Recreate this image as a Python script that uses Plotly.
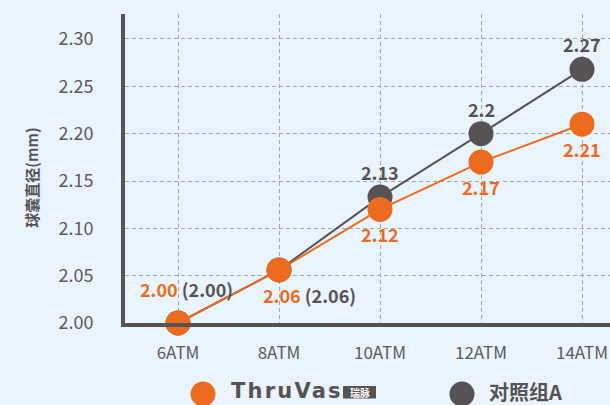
import plotly.graph_objects as go

# ---- data ----
categories = ["6ATM", "8ATM", "10ATM", "12ATM", "14ATM"]
thruvas = [2.00, 2.056, 2.12, 2.17, 2.21]
control = [2.00, 2.056, 2.133, 2.20, 2.268]
thruvas_labels = ["2.00", "2.06", "2.12", "2.17", "2.21"]
control_labels = ["(2.00)", "(2.06)", "2.13", "2.2", "2.27"]
y_ticks = [2.00, 2.05, 2.10, 2.15, 2.20, 2.25, 2.30]
y_tick_text = ["2.00", "2.05", "2.10", "2.15", "2.20", "2.25", "2.30"]
series_names = ["ThruVas", "对照组A"]
y_title = "球囊直径(mm)"

ORANGE = "#ec6b1e"
GRAY = "#575354"
BG = "#e9f4fc"
FONT = "Noto Sans CJK SC"

fig = go.Figure()
fig.add_trace(go.Scatter(
    x=categories, y=control, mode="lines+markers", name=series_names[1],
    line=dict(color=GRAY, width=2), marker=dict(size=25, color=GRAY),
    cliponaxis=False, showlegend=False))
fig.add_trace(go.Scatter(
    x=categories, y=thruvas, mode="lines+markers", name=series_names[0],
    line=dict(color=ORANGE, width=2), marker=dict(size=25, color=ORANGE),
    cliponaxis=False, showlegend=False))

annotations = []
# combined labels for first two points (label offsets in pixels)
combo_shift = [(8, 34), (30, -25)]
for i, (dx, dy) in enumerate(combo_shift):
    annotations.append(dict(
        x=categories[i], y=thruvas[i], xref="x", yref="y",
        text=f"<span style='color:{ORANGE}'>{thruvas_labels[i]}</span> {control_labels[i]}",
        showarrow=False, xshift=dx, yshift=dy,
        font=dict(family=FONT, size=18, color=GRAY, weight="bold")))
for i in range(2, len(categories)):
    annotations.append(dict(
        x=categories[i], y=thruvas[i], xref="x", yref="y",
        text=thruvas_labels[i], showarrow=False, yshift=-25,
        font=dict(family=FONT, size=18, color=ORANGE, weight="bold")))
    annotations.append(dict(
        x=categories[i], y=control[i], xref="x", yref="y",
        text=control_labels[i], showarrow=False, yshift=25,
        font=dict(family=FONT, size=18, color=GRAY, weight="bold")))

# y axis title
annotations.append(dict(
    x=-0.192, y=0.47, xref="paper", yref="paper", text=y_title,
    xanchor="center", yanchor="middle",
    textangle=-90, showarrow=False,
    font=dict(family=FONT, size=15, color=GRAY, weight="bold")))

# legend (custom, large symbols)
L, W, T, H = 125, 485, 14, 309
def px(xp):
    return (xp - L) / W
def py(yp):
    return (T + H - yp) / H

shapes = []
for cx, col in [(203, ORANGE), (462, GRAY)]:
    shapes.append(dict(type="circle", xref="paper", yref="paper",
                       xsizemode="pixel", ysizemode="pixel",
                       xanchor=px(cx), yanchor=py(394),
                       x0=-12.5, x1=12.5, y0=-12.5, y1=12.5,
                       fillcolor=col, line=dict(width=0)))
shapes.append(dict(type="rect", xref="paper", yref="paper",
                   x0=px(343), x1=px(376), y0=py(398.5), y1=py(386),
                   fillcolor=GRAY, line=dict(width=0)))
annotations.append(dict(x=px(229), y=py(391), xref="paper", yref="paper",
                        xanchor="left", yanchor="middle",
                        text=f"<span style='letter-spacing:2.2px'>{series_names[0]}</span>",
                        showarrow=False,
                        font=dict(family="DejaVu Sans", size=21, color=GRAY, weight="bold")))
annotations.append(dict(x=px(359.5), y=py(392.5), xref="paper", yref="paper",
                        xanchor="center", yanchor="middle", text="瑞脉",
                        showarrow=False,
                        font=dict(family=FONT, size=10, color="white", weight="bold")))
annotations.append(dict(x=px(487), y=py(391.5), xref="paper", yref="paper",
                        xanchor="left", yanchor="middle", text=series_names[1],
                        showarrow=False,
                        font=dict(family=FONT, size=20, color=GRAY, weight="bold")))

fig.update_layout(
    width=610, height=405,
    margin=dict(l=125, r=0, t=14, b=82),
    paper_bgcolor=BG, plot_bgcolor=BG,
    font=dict(family=FONT, color="#5e5a5b"),
    annotations=annotations, shapes=shapes,
    showlegend=False,
)
fig.update_xaxes(
    type="category", categoryorder="array", categoryarray=categories,
    range=[-0.525, 4.277], showline=True, linecolor=GRAY, linewidth=4,
    showgrid=True, gridcolor="#a3a6aa", gridwidth=1, griddash="4px,3px",
    ticks="", tickfont=dict(size=17, color="#5e5a5b"), ticklabelstandoff=12,
    zeroline=False, fixedrange=True)
fig.update_yaxes(
    range=[2.00, 2.3264], tickvals=y_ticks, ticktext=y_tick_text,
    showline=True, linecolor=GRAY, linewidth=4,
    showgrid=True, gridcolor="#a3a6aa", gridwidth=1, griddash="4px,3px",
    ticks="", tickfont=dict(size=18, color="#5e5a5b"), ticklabelstandoff=24,
    zeroline=False, fixedrange=True)

fig.write_html("out.html", config={"displayModeBar": False},
               post_script="document.body.style.margin='0';document.body.style.overflow='hidden';")
